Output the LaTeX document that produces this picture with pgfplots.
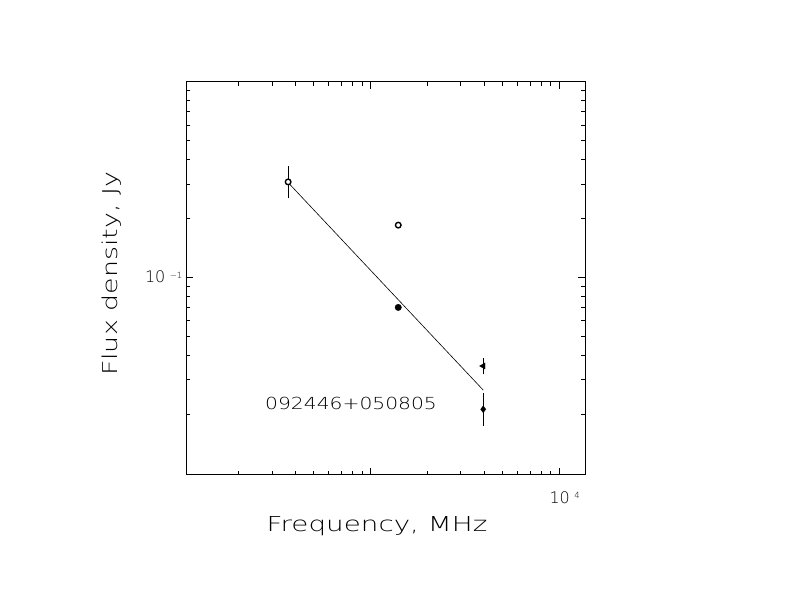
\documentclass[border=0pt]{standalone}
\usepackage{graphicx}
\usepackage{fontspec}
\usepackage{pgfplots}
\pgfplotsset{compat=1.18}
\IfFontExistsTF{DejaVu Sans ExtraLight}{\newfontfamily\hf{DejaVu Sans ExtraLight}}{\newfontfamily\hf{DejaVu Sans}}
\newcommand{\tenpow}[2]{{\hf\fontsize{16}{16}\selectfont 10\hspace{4.5bp}\raisebox{#2}{\fontsize{8.5}{8.5}\selectfont #1}}}
\begin{document}
\begin{tikzpicture}[x=1bp,y=1bp]
\path[use as bounding box] (0,0) rectangle (792,612);
\begin{axis}[
  at={(186bp,137bp)}, anchor=south west,
  scale only axis, width=399bp, height=393bp,
  xmode=log, ymode=log,
  xmin=104.9, xmax=13687, ymin=0.0098, ymax=0.9954,
  xtick={1000,10000},
  xticklabels={{},{\tenpow{4}{5bp}}},
  minor xtick={200,300,400,500,600,700,800,900,2000,3000,4000,5000,6000,7000,8000,9000},
  ytick={0.1},
  yticklabels={{\tenpow{−1}{3.7bp}}},
  minor ytick={0.02,0.03,0.04,0.05,0.06,0.07,0.08,0.09,0.2,0.3,0.4,0.5,0.6,0.7,0.8,0.9},
  tick align=inside,
  major tick length=7bp, minor tick length=4bp,
  axis line style={line width=1bp},
  tick style={black, line width=0.9bp},
  xticklabel style={anchor=base west, inner sep=0pt, xshift=-10bp, yshift=-28.3bp},
  yticklabel style={anchor=base east, inner sep=0pt, xshift=-3.5bp, yshift=-4.7bp},
  xlabel={\resizebox{220.6bp}{15bp}{\hf Frequency, MHz}},
  xlabel style={at={(axis description cs:0.4787,-0.1443)}, anchor=base, inner sep=0pt},
  ylabel={\resizebox{204bp}{15.5bp}{\hf Flux density, Jy}},
  ylabel style={at={(axis description cs:-0.1717,0.5115)}, anchor=base, inner sep=0pt},
]
% fitted spectrum
\addplot[black, line width=0.6bp] coordinates {(365,0.305) (3950,0.0266)};
% error bars
\addplot[black, line width=1bp] coordinates {(365,0.253) (365,0.371)};
\addplot[black, line width=1bp] coordinates {(3950,0.032) (3950,0.0386)};
\addplot[black, line width=1bp] coordinates {(3950,0.0174) (3950,0.0256)};
% points
\addplot[only marks, mark=*, mark size=2.8bp, mark options={draw=black, fill=white, line width=1.4bp}] coordinates {(365,0.3074) (1400,0.185)};
\addplot[only marks, mark=*, mark size=3.2bp, mark options={draw=black, fill=black}] coordinates {(1400,0.0703)};
\addplot[only marks, mark=triangle*, mark size=3.6bp, mark options={rotate=90, draw=black, fill=black}] coordinates {(3950,0.0353)};
\addplot[only marks, mark=diamond*, mark size=3.4bp, mark options={draw=black, fill=black}] coordinates {(3950,0.02122)};
\node[anchor=base west, inner sep=0pt] at (axis cs:275.2,0.02129) {\resizebox{171.7bp}{12.3bp}{\hf 092446+050805}};
\end{axis}
\end{tikzpicture}
\end{document}
